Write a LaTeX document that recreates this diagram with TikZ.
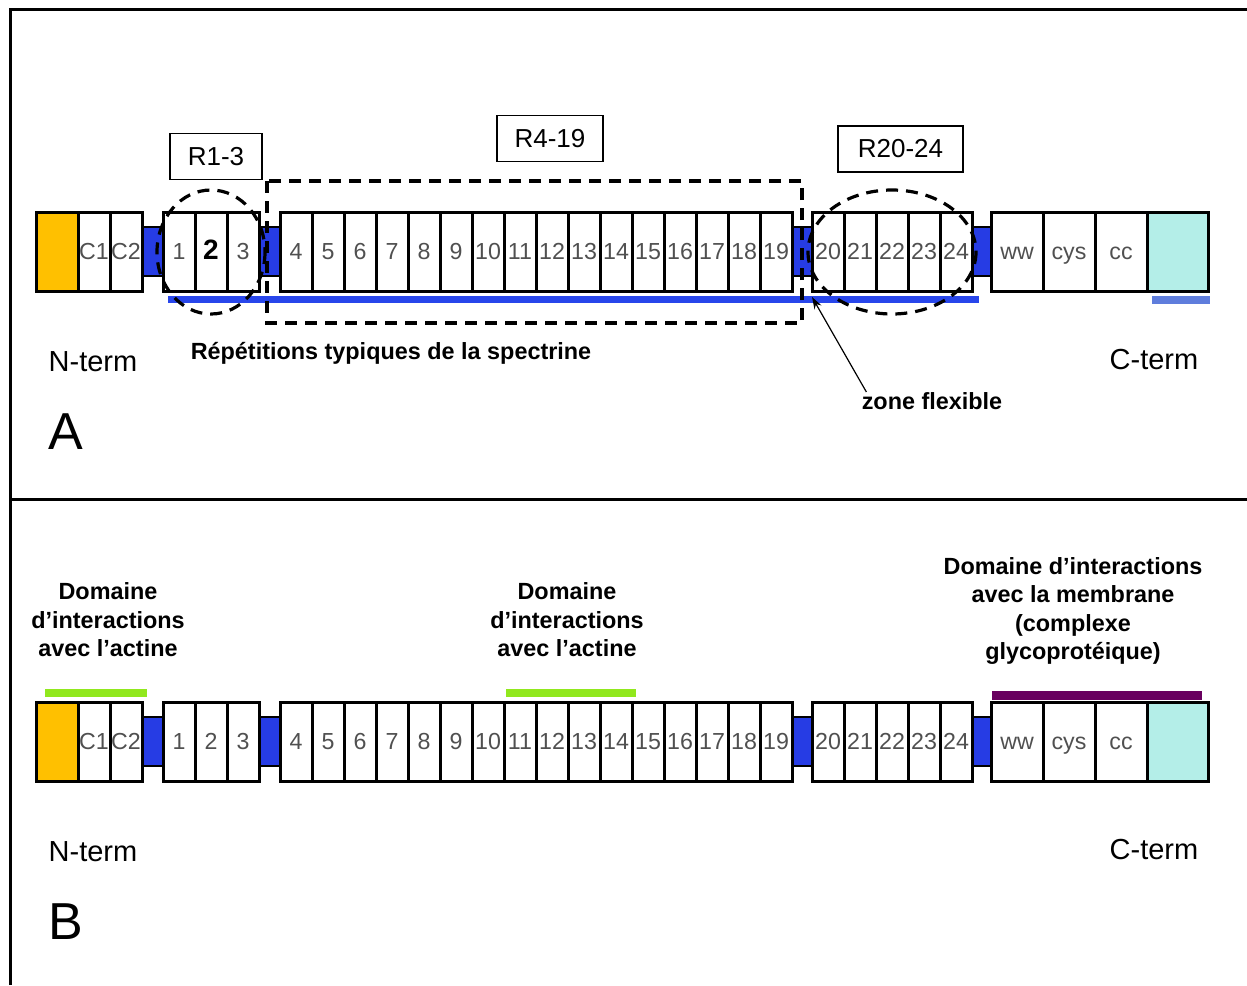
\documentclass[tikz,border=0pt]{standalone}
\usepackage{fontspec}
\setmainfont{Liberation Sans}
\usetikzlibrary{calc, positioning}
\usetikzlibrary{arrows.meta}

\definecolor{domyellow}{RGB}{255,192,0}
\definecolor{domcyan}{RGB}{180,238,232}
\definecolor{linkblue}{RGB}{38,60,228}
\definecolor{barblue}{RGB}{40,70,235}
\definecolor{palebar}{RGB}{95,125,220}
\definecolor{actgreen}{RGB}{145,232,30}
\definecolor{mempurple}{RGB}{105,0,95}
\definecolor{lblgray}{RGB}{80,80,80}

\tikzset{
    dombox/.style={draw, line width=1.5pt, fill=white, inner sep=0pt, outer sep=0pt,
        minimum height=39.5pt, anchor=west, text=lblgray,
        text height=8.4pt, text depth=0pt,
        font=\fontsize{11.6}{11.6}\selectfont},
    repbox/.style={dombox, minimum width=16pt},
    endbox/.style={dombox, minimum width=26pt},
    linkbox/.style={draw=black, line width=1pt, fill=linkblue, inner sep=0pt,
        outer sep=0pt, minimum height=24.5pt, anchor=west},
    dashring/.style={line width=1.6pt, dash pattern=on 6pt off 4pt},
    tagbox/.style={draw, line width=0.6pt, inner sep=0pt, minimum height=23pt,
        font=\fontsize{13}{13}\selectfont},
    termtext/.style={font=\fontsize{14.5}{14.5}\selectfont, inner sep=0pt},
    boldtext/.style={font=\bfseries\fontsize{11.7}{14.3}\selectfont, inner sep=0pt,
        align=center},
    paneltext/.style={font=\fontsize{26}{26}\selectfont, inner sep=0pt}
}

% one row of domains: prefix, y of the middle line, label of repeat 2
\newcommand{\dysrow}[3]{%
    % linkers first, boxes drawn over them
    \node[linkbox, minimum width=10.5pt] (#1L1) at (142,#2) {};
    \node[linkbox, minimum width=10.5pt] (#1L2) at (259,#2) {};
    \node[linkbox, minimum width=10pt] (#1L3) at (792,#2) {};
    \node[linkbox, minimum width=9.5pt] (#1L4) at (972,#2) {};
    \node[dombox, fill=domyellow, minimum width=21pt] (#1N) at (36,#2) {};
    \node[repbox] (#1C1) at (78,#2) {C1};
    \node[repbox] (#1C2) at (110,#2) {C2};
    \node[repbox] (#1R1) at (163,#2) {1};
    \node[repbox] (#1R2) at (195,#2) {#3};
    \node[repbox] (#1R3) at (227,#2) {3};
    \foreach \i in {4,...,19}
        \node[repbox] (#1R\i) at ({280+(\i-4)*32},#2) {\i};
    \foreach \i in {20,...,24}
        \node[repbox] (#1R\i) at ({812+(\i-20)*32},#2) {\i};
    \node[endbox] (#1ww) at (991,#2) {ww};
    \node[endbox] (#1cys) at (1043,#2) {cys};
    \node[endbox] (#1cc) at (1095,#2) {cc};
    \node[dombox, fill=domcyan, minimum width=30.5pt] (#1C) at (1147,#2) {};
}

\begin{document}
\begin{tikzpicture}[x=0.5pt, y=-0.5pt]
\useasboundingbox (0,0) rectangle (1247,985);

% frame
\draw[line width=1.5pt] (10,985) -- (10,9) -- (1247,9);
\draw[line width=1.5pt] (10,499) -- (1247,499);

%% Panel A
\dysrow{a}{251.5}{\textcolor{black}{\bfseries\fontsize{14}{14}\selectfont 2}}

\fill[barblue] (168,296) rectangle (979,303);
\fill[palebar] (1152,296) rectangle (1210,304);

\draw[dashring] (211,252) ellipse [x radius=54, y radius=62];
\draw[dashring] (267,181) rectangle (802,323);
\draw[dashring] (892,252) ellipse [x radius=84, y radius=62];

\node[tagbox, minimum width=46pt] (tagR1) at (216,156.5) {R1-3};
\node[tagbox, minimum width=53pt] (tagR4) at (550,138.5) {R4-19};
\node[tagbox, minimum width=62.5pt] (tagR20) at (900.5,149) {R20-24};

\node[termtext] (ntermA) at (93,362) {N-term};
\node[termtext] (ctermA) at (1154,360) {C-term};
\node[boldtext] (repeats) at (391,353) {Répétitions typiques de la spectrine};
\node[boldtext] (flex) at (932,401) {zone flexible};
\node[paneltext] (labA) at (66,432) {A};

\coordinate (flexpt) at (812,297);
\draw[line width=0.6pt, -{Stealth[length=6pt, width=4pt]}] ($(flex.north west)+(5,0)$) -- (flexpt);

%% Panel B
\dysrow{b}{741.5}{2}

\fill[actgreen] (45,689) rectangle (147,697);
\fill[actgreen] (506,689) rectangle (636,697);
\fill[mempurple] (992,691) rectangle (1202,700);

\node[boldtext] (actinA) at (108,620) {Domaine\\d’interactions\\avec l’actine};
\node[boldtext] (actinB) at (567,620) {Domaine\\d’interactions\\avec l’actine};
\node[boldtext] (membrane) at (1073,611) {Domaine d’interactions\\avec la membrane\\(complexe\\glycoprotéique)};

\node[termtext] (ntermB) at (93,852) {N-term};
\node[termtext] (ctermB) at (1154,850) {C-term};
\node[paneltext] (labB) at (66,922) {B};
\end{tikzpicture}
\end{document}
